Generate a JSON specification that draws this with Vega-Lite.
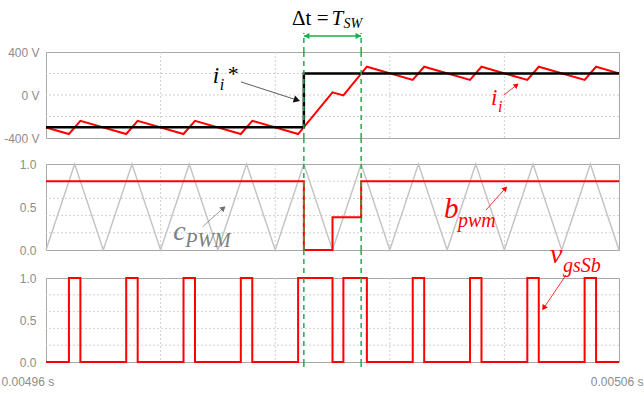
{
  "$schema": "https://vega.github.io/schema/vega-lite/v6.json",
  "padding": 0,
  "bounds": "flush",
  "spacing": 0,
  "resolve": {"scale": {"x": "independent", "y": "independent"}},
  "datasets": {
    "current": [
      {"t": 0.00496, "v": -302}, {"t": 0.004964, "v": -363}, {"t": 0.004966, "v": -240},
      {"t": 0.004974, "v": -363}, {"t": 0.004976, "v": -240}, {"t": 0.004984, "v": -363},
      {"t": 0.004986, "v": -240}, {"t": 0.004994, "v": -363}, {"t": 0.004996, "v": -240},
      {"t": 0.005004, "v": -363}, {"t": 0.00501, "v": 25}, {"t": 0.0050119, "v": -4},
      {"t": 0.005016, "v": 263}, {"t": 0.005024, "v": 140}, {"t": 0.005026, "v": 263},
      {"t": 0.005034, "v": 140}, {"t": 0.005036, "v": 263}, {"t": 0.005044, "v": 140},
      {"t": 0.005046, "v": 263}, {"t": 0.005054, "v": 140}, {"t": 0.005056, "v": 263},
      {"t": 0.00506, "v": 201}
    ],
    "reference": [
      {"t": 0.00496, "v": -300}, {"t": 0.005005, "v": 200}, {"t": 0.00506, "v": 200}
    ],
    "carrier": [
      {"t": 0.00496, "c": 0}, {"t": 0.004965, "c": 1}, {"t": 0.00497, "c": 0}, {"t": 0.004975, "c": 1},
      {"t": 0.00498, "c": 0}, {"t": 0.004985, "c": 1}, {"t": 0.00499, "c": 0}, {"t": 0.004995, "c": 1},
      {"t": 0.005, "c": 0}, {"t": 0.005005, "c": 1}, {"t": 0.00501, "c": 0}, {"t": 0.005015, "c": 1},
      {"t": 0.00502, "c": 0}, {"t": 0.005025, "c": 1}, {"t": 0.00503, "c": 0}, {"t": 0.005035, "c": 1},
      {"t": 0.00504, "c": 0}, {"t": 0.005045, "c": 1}, {"t": 0.00505, "c": 0}, {"t": 0.005055, "c": 1},
      {"t": 0.00506, "c": 0}
    ],
    "bpwm": [
      {"t": 0.00496, "b": 0.8}, {"t": 0.005005, "b": 0}, {"t": 0.00501, "b": 0.38},
      {"t": 0.005015, "b": 0.8}, {"t": 0.00506, "b": 0.8}
    ],
    "gate": [
      {"t": 0.00496, "g": 0}, {"t": 0.004964, "g": 1}, {"t": 0.004966, "g": 0},
      {"t": 0.004974, "g": 1}, {"t": 0.004976, "g": 0}, {"t": 0.004984, "g": 1},
      {"t": 0.004986, "g": 0}, {"t": 0.004994, "g": 1}, {"t": 0.004996, "g": 0},
      {"t": 0.005004, "g": 1}, {"t": 0.00501, "g": 0}, {"t": 0.0050119, "g": 1},
      {"t": 0.005016, "g": 0}, {"t": 0.005024, "g": 1}, {"t": 0.005026, "g": 0},
      {"t": 0.005034, "g": 1}, {"t": 0.005036, "g": 0}, {"t": 0.005044, "g": 1},
      {"t": 0.005046, "g": 0}, {"t": 0.005054, "g": 1}, {"t": 0.005056, "g": 0},
      {"t": 0.00506, "g": 0}
    ],
    "markers": [{"t": 0.005005}, {"t": 0.005015}],
    "vgrid": [{"t": 0.00498}, {"t": 0.005}, {"t": 0.00502}, {"t": 0.00504}],
    "hgridV": [{"v": -200}, {"v": 0}, {"v": 200}],
    "hgridU": [{"u": 0.2}, {"u": 0.4}, {"u": 0.6}, {"u": 0.8}]
  },
  "vconcat": [
    {
      "width": 573, "height": 52, "view": {"stroke": null},
      "layer": [
        {"data": {"name": "markers"},
         "mark": {"type": "rule", "color": "#1aaf4b", "strokeWidth": 1.5, "strokeDash": [5, 4]},
         "encoding": {
           "x": {"field": "t", "type": "quantitative", "scale": {"domain": [0.00496, 0.00506], "nice": false, "zero": false}, "axis": null},
           "y": {"datum": 0, "type": "quantitative", "scale": {"domain": [0, 1], "nice": false, "zero": false}, "axis": null},
           "y2": {"datum": 0.365}}},
        {"data": {"values": [{}]},
         "mark": {"type": "rule", "color": "#1aaf4b", "strokeWidth": 1.5},
         "encoding": {
           "x": {"datum": 0.005005, "type": "quantitative", "scale": {"domain": [0.00496, 0.00506], "nice": false, "zero": false}, "axis": null},
           "x2": {"datum": 0.005015},
           "y": {"datum": 0.31, "type": "quantitative", "scale": {"domain": [0, 1], "nice": false, "zero": false}, "axis": null}}},
        {"data": {"values": [{}]},
         "mark": {"type": "point", "shape": "triangle-left", "filled": true, "size": 40, "color": "#1aaf4b", "opacity": 1},
         "encoding": {
           "x": {"datum": 0.0050055, "type": "quantitative", "scale": {"domain": [0.00496, 0.00506], "nice": false, "zero": false}, "axis": null},
           "y": {"datum": 0.31, "type": "quantitative", "scale": {"domain": [0, 1], "nice": false, "zero": false}, "axis": null}}},
        {"data": {"values": [{}]},
         "mark": {"type": "point", "shape": "triangle-right", "filled": true, "size": 40, "color": "#1aaf4b", "opacity": 1},
         "encoding": {
           "x": {"datum": 0.0050145, "type": "quantitative", "scale": {"domain": [0.00496, 0.00506], "nice": false, "zero": false}, "axis": null},
           "y": {"datum": 0.31, "type": "quantitative", "scale": {"domain": [0, 1], "nice": false, "zero": false}, "axis": null}}},
        {"data": {"values": [{}]},
         "mark": {"type": "text", "text": "Δt =", "align": "right", "baseline": "alphabetic", "dx": -4, "font": "Liberation Serif", "fontSize": 21, "color": "#000000"},
         "encoding": {
           "x": {"datum": 0.00501, "type": "quantitative", "scale": {"domain": [0.00496, 0.00506], "nice": false, "zero": false}, "axis": null},
           "y": {"datum": 0.52, "type": "quantitative", "scale": {"domain": [0, 1], "nice": false, "zero": false}, "axis": null}}},
        {"data": {"values": [{}]},
         "mark": {"type": "text", "text": "T", "align": "left", "baseline": "alphabetic", "dx": -1, "font": "Liberation Serif", "fontStyle": "italic", "fontSize": 21, "color": "#000000"},
         "encoding": {
           "x": {"datum": 0.00501, "type": "quantitative", "scale": {"domain": [0.00496, 0.00506], "nice": false, "zero": false}, "axis": null},
           "y": {"datum": 0.52, "type": "quantitative", "scale": {"domain": [0, 1], "nice": false, "zero": false}, "axis": null}}},
        {"data": {"values": [{}]},
         "mark": {"type": "text", "text": "SW", "align": "left", "baseline": "alphabetic", "dx": 11, "dy": 3, "font": "Liberation Serif", "fontStyle": "italic", "fontSize": 14, "color": "#000000"},
         "encoding": {
           "x": {"datum": 0.00501, "type": "quantitative", "scale": {"domain": [0.00496, 0.00506], "nice": false, "zero": false}, "axis": null},
           "y": {"datum": 0.52, "type": "quantitative", "scale": {"domain": [0, 1], "nice": false, "zero": false}, "axis": null}}}
      ]
    },
    {
      "width": 573, "height": 86,
      "layer": [
        {"data": {"name": "vgrid"},
         "mark": {"type": "rule", "color": "#d0d0d0", "strokeWidth": 1, "strokeDash": [2, 2]},
         "encoding": {
           "x": {"field": "t", "type": "quantitative", "scale": {"domain": [0.00496, 0.00506], "nice": false, "zero": false}, "axis": null}}},
        {"data": {"name": "hgridV"},
         "mark": {"type": "rule", "color": "#d0d0d0", "strokeWidth": 1, "strokeDash": [2, 2]},
         "encoding": {
           "y": {"field": "v", "type": "quantitative", "scale": {"domain": [-400, 400], "nice": false, "zero": false}, "axis": {"title": null}}}},
        {"data": {"name": "current"},
         "mark": {"type": "line", "color": "#ff0000", "strokeWidth": 2},
         "encoding": {
           "x": {"field": "t", "type": "quantitative", "scale": {"domain": [0.00496, 0.00506], "nice": false, "zero": false}, "axis": null},
           "y": {"field": "v", "type": "quantitative", "scale": {"domain": [-400, 400], "nice": false, "zero": false},
                 "axis": {"values": [-400, 0, 400], "labelExpr": "datum.value + ' V'", "grid": false,
                          "labelPadding": 7, "labelOverlap": false, "title": null}}}},
        {"data": {"name": "reference"},
         "mark": {"type": "line", "color": "#000000", "strokeWidth": 2.5, "interpolate": "step-after"},
         "encoding": {
           "x": {"field": "t", "type": "quantitative", "scale": {"domain": [0.00496, 0.00506], "nice": false, "zero": false}, "axis": null},
           "y": {"field": "v", "type": "quantitative", "scale": {"domain": [-400, 400], "nice": false, "zero": false}, "axis": {"title": null}}}},
        {"data": {"name": "markers"},
         "mark": {"type": "rule", "color": "#1aaf4b", "strokeWidth": 1.5, "strokeDash": [5, 4]},
         "encoding": {
           "x": {"field": "t", "type": "quantitative", "scale": {"domain": [0.00496, 0.00506], "nice": false, "zero": false}, "axis": null}}},
        {"data": {"values": [{}]},
         "mark": {"type": "rule", "color": "#333333", "strokeWidth": 0.8},
         "encoding": {
           "x": {"datum": 0.00499403, "type": "quantitative", "scale": {"domain": [0.00496, 0.00506], "nice": false, "zero": false}, "axis": null},
           "x2": {"datum": 0.0050038},
           "y": {"datum": 122, "type": "quantitative", "scale": {"domain": [-400, 400], "nice": false, "zero": false}, "axis": {"title": null}},
           "y2": {"datum": -47}}},
        {"data": {"values": [{}]},
         "mark": {"type": "point", "shape": "triangle-up", "filled": true, "size": 55, "color": "#111111", "opacity": 1, "angle": 108},
         "encoding": {
           "x": {"datum": 0.0050038, "type": "quantitative", "scale": {"domain": [0.00496, 0.00506], "nice": false, "zero": false}, "axis": null},
           "y": {"datum": -47, "type": "quantitative", "scale": {"domain": [-400, 400], "nice": false, "zero": false}, "axis": {"title": null}}}},
        {"data": {"values": [{}]},
         "mark": {"type": "rule", "color": "#ff0000", "strokeWidth": 0.8},
         "encoding": {
           "x": {"datum": 0.00503988, "type": "quantitative", "scale": {"domain": [0.00496, 0.00506], "nice": false, "zero": false}, "axis": null},
           "x2": {"datum": 0.00504213},
           "y": {"datum": -1, "type": "quantitative", "scale": {"domain": [-400, 400], "nice": false, "zero": false}, "axis": {"title": null}},
           "y2": {"datum": 92}}},
        {"data": {"values": [{}]},
         "mark": {"type": "point", "shape": "triangle-up", "filled": true, "size": 35, "color": "#ff0000", "opacity": 1, "angle": 51},
         "encoding": {
           "x": {"datum": 0.00504213, "type": "quantitative", "scale": {"domain": [0.00496, 0.00506], "nice": false, "zero": false}, "axis": null},
           "y": {"datum": 92, "type": "quantitative", "scale": {"domain": [-400, 400], "nice": false, "zero": false}, "axis": {"title": null}}}},
        {"data": {"values": [{}]},
         "mark": {"type": "text", "text": "i", "align": "left", "baseline": "alphabetic", "font": "Liberation Serif", "fontStyle": "italic", "fontSize": 23, "color": "#000000"},
         "encoding": {
           "x": {"datum": 0.0049891, "type": "quantitative", "scale": {"domain": [0.00496, 0.00506], "nice": false, "zero": false}, "axis": null},
           "y": {"datum": 110, "type": "quantitative", "scale": {"domain": [-400, 400], "nice": false, "zero": false}, "axis": {"title": null}}}},
        {"data": {"values": [{}]},
         "mark": {"type": "text", "text": "i", "align": "left", "baseline": "alphabetic", "dx": 7, "dy": 7, "font": "Liberation Serif", "fontStyle": "italic", "fontSize": 16, "color": "#000000"},
         "encoding": {
           "x": {"datum": 0.0049891, "type": "quantitative", "scale": {"domain": [0.00496, 0.00506], "nice": false, "zero": false}, "axis": null},
           "y": {"datum": 110, "type": "quantitative", "scale": {"domain": [-400, 400], "nice": false, "zero": false}, "axis": {"title": null}}}},
        {"data": {"values": [{}]},
         "mark": {"type": "text", "text": "*", "align": "left", "baseline": "alphabetic", "dx": 15, "dy": -2, "font": "Liberation Serif", "fontSize": 22, "color": "#000000"},
         "encoding": {
           "x": {"datum": 0.0049891, "type": "quantitative", "scale": {"domain": [0.00496, 0.00506], "nice": false, "zero": false}, "axis": null},
           "y": {"datum": 110, "type": "quantitative", "scale": {"domain": [-400, 400], "nice": false, "zero": false}, "axis": {"title": null}}}},
        {"data": {"values": [{}]},
         "mark": {"type": "text", "text": "i", "align": "left", "baseline": "alphabetic", "font": "Liberation Serif", "fontStyle": "italic", "fontSize": 23, "color": "#ff0000"},
         "encoding": {
           "x": {"datum": 0.00503766, "type": "quantitative", "scale": {"domain": [0.00496, 0.00506], "nice": false, "zero": false}, "axis": null},
           "y": {"datum": -94, "type": "quantitative", "scale": {"domain": [-400, 400], "nice": false, "zero": false}, "axis": {"title": null}}}},
        {"data": {"values": [{}]},
         "mark": {"type": "text", "text": "i", "align": "left", "baseline": "alphabetic", "dx": 7, "dy": 7, "font": "Liberation Serif", "fontStyle": "italic", "fontSize": 16, "color": "#ff0000"},
         "encoding": {
           "x": {"datum": 0.00503766, "type": "quantitative", "scale": {"domain": [0.00496, 0.00506], "nice": false, "zero": false}, "axis": null},
           "y": {"datum": -94, "type": "quantitative", "scale": {"domain": [-400, 400], "nice": false, "zero": false}, "axis": {"title": null}}}}
      ]
    },
    {
      "width": 573, "height": 26, "view": {"stroke": null},
      "layer": [
        {"data": {"name": "markers"},
         "mark": {"type": "rule", "color": "#1aaf4b", "strokeWidth": 1.5, "strokeDash": [5, 4]},
         "encoding": {
           "x": {"field": "t", "type": "quantitative", "scale": {"domain": [0.00496, 0.00506], "nice": false, "zero": false}, "axis": null}}}
      ]
    },
    {
      "width": 573, "height": 86,
      "layer": [
        {"data": {"name": "vgrid"},
         "mark": {"type": "rule", "color": "#d0d0d0", "strokeWidth": 1, "strokeDash": [2, 2]},
         "encoding": {
           "x": {"field": "t", "type": "quantitative", "scale": {"domain": [0.00496, 0.00506], "nice": false, "zero": false}, "axis": null}}},
        {"data": {"name": "hgridU"},
         "mark": {"type": "rule", "color": "#d0d0d0", "strokeWidth": 1, "strokeDash": [2, 2]},
         "encoding": {
           "y": {"field": "u", "type": "quantitative", "scale": {"domain": [0, 1], "nice": false, "zero": false}, "axis": {"title": null}}}},
        {"data": {"name": "carrier"},
         "mark": {"type": "line", "color": "#c4c4c4", "strokeWidth": 1.5},
         "encoding": {
           "x": {"field": "t", "type": "quantitative", "scale": {"domain": [0.00496, 0.00506], "nice": false, "zero": false}, "axis": null},
           "y": {"field": "c", "type": "quantitative", "scale": {"domain": [0, 1], "nice": false, "zero": false},
                 "axis": {"values": [0, 0.5, 1], "format": ".1f", "grid": false,
                          "labelPadding": 10, "labelOverlap": false, "title": null}}}},
        {"data": {"name": "bpwm"},
         "mark": {"type": "line", "color": "#ff0000", "strokeWidth": 2, "interpolate": "step-after"},
         "encoding": {
           "x": {"field": "t", "type": "quantitative", "scale": {"domain": [0.00496, 0.00506], "nice": false, "zero": false}, "axis": null},
           "y": {"field": "b", "type": "quantitative", "scale": {"domain": [0, 1], "nice": false, "zero": false}, "axis": {"title": null}}}},
        {"data": {"name": "markers"},
         "mark": {"type": "rule", "color": "#1aaf4b", "strokeWidth": 1.5, "strokeDash": [5, 4]},
         "encoding": {
           "x": {"field": "t", "type": "quantitative", "scale": {"domain": [0.00496, 0.00506], "nice": false, "zero": false}, "axis": null}}},
        {"data": {"values": [{}]},
         "mark": {"type": "rule", "color": "#808080", "strokeWidth": 0.8},
         "encoding": {
           "x": {"datum": 0.00498735, "type": "quantitative", "scale": {"domain": [0.00496, 0.00506], "nice": false, "zero": false}, "axis": null},
           "x2": {"datum": 0.00499096},
           "y": {"datum": 0.271, "type": "quantitative", "scale": {"domain": [0, 1], "nice": false, "zero": false}, "axis": {"title": null}},
           "y2": {"datum": 0.488}}},
        {"data": {"values": [{}]},
         "mark": {"type": "point", "shape": "triangle-up", "filled": true, "size": 40, "color": "#707070", "opacity": 1, "angle": 48},
         "encoding": {
           "x": {"datum": 0.00499096, "type": "quantitative", "scale": {"domain": [0.00496, 0.00506], "nice": false, "zero": false}, "axis": null},
           "y": {"datum": 0.488, "type": "quantitative", "scale": {"domain": [0, 1], "nice": false, "zero": false}, "axis": {"title": null}}}},
        {"data": {"values": [{}]},
         "mark": {"type": "rule", "color": "#ff0000", "strokeWidth": 0.8},
         "encoding": {
           "x": {"datum": 0.00503679, "type": "quantitative", "scale": {"domain": [0.00496, 0.00506], "nice": false, "zero": false}, "axis": null},
           "x2": {"datum": 0.00504017},
           "y": {"datum": 0.465, "type": "quantitative", "scale": {"domain": [0, 1], "nice": false, "zero": false}, "axis": {"title": null}},
           "y2": {"datum": 0.717}}},
        {"data": {"values": [{}]},
         "mark": {"type": "point", "shape": "triangle-up", "filled": true, "size": 35, "color": "#ff0000", "opacity": 1, "angle": 42},
         "encoding": {
           "x": {"datum": 0.00504017, "type": "quantitative", "scale": {"domain": [0.00496, 0.00506], "nice": false, "zero": false}, "axis": null},
           "y": {"datum": 0.717, "type": "quantitative", "scale": {"domain": [0, 1], "nice": false, "zero": false}, "axis": {"title": null}}}},
        {"data": {"values": [{}]},
         "mark": {"type": "text", "text": "c", "align": "left", "baseline": "alphabetic", "font": "Liberation Serif", "fontStyle": "italic", "fontSize": 28, "color": "#7f7f7f"},
         "encoding": {
           "x": {"datum": 0.0049822, "type": "quantitative", "scale": {"domain": [0.00496, 0.00506], "nice": false, "zero": false}, "axis": null},
           "y": {"datum": 0.116, "type": "quantitative", "scale": {"domain": [0, 1], "nice": false, "zero": false}, "axis": {"title": null}}}},
        {"data": {"values": [{}]},
         "mark": {"type": "text", "text": "PWM", "align": "left", "baseline": "alphabetic", "dx": 12, "dy": 7, "font": "Liberation Serif", "fontStyle": "italic", "fontSize": 20, "color": "#7f7f7f"},
         "encoding": {
           "x": {"datum": 0.0049822, "type": "quantitative", "scale": {"domain": [0.00496, 0.00506], "nice": false, "zero": false}, "axis": null},
           "y": {"datum": 0.116, "type": "quantitative", "scale": {"domain": [0, 1], "nice": false, "zero": false}, "axis": {"title": null}}}},
        {"data": {"values": [{}]},
         "mark": {"type": "text", "text": "b", "align": "left", "baseline": "alphabetic", "font": "Liberation Serif", "fontStyle": "italic", "fontSize": 29, "color": "#ff0000"},
         "encoding": {
           "x": {"datum": 0.00502946, "type": "quantitative", "scale": {"domain": [0.00496, 0.00506], "nice": false, "zero": false}, "axis": null},
           "y": {"datum": 0.372, "type": "quantitative", "scale": {"domain": [0, 1], "nice": false, "zero": false}, "axis": {"title": null}}}},
        {"data": {"values": [{}]},
         "mark": {"type": "text", "text": "pwm", "align": "left", "baseline": "alphabetic", "dx": 14, "dy": 9, "font": "Liberation Serif", "fontStyle": "italic", "fontSize": 20, "color": "#ff0000"},
         "encoding": {
           "x": {"datum": 0.00502946, "type": "quantitative", "scale": {"domain": [0.00496, 0.00506], "nice": false, "zero": false}, "axis": null},
           "y": {"datum": 0.372, "type": "quantitative", "scale": {"domain": [0, 1], "nice": false, "zero": false}, "axis": {"title": null}}}}
      ]
    },
    {
      "width": 573, "height": 28, "view": {"stroke": null},
      "layer": [
        {"data": {"name": "markers"},
         "mark": {"type": "rule", "color": "#1aaf4b", "strokeWidth": 1.5, "strokeDash": [5, 4]},
         "encoding": {
           "x": {"field": "t", "type": "quantitative", "scale": {"domain": [0.00496, 0.00506], "nice": false, "zero": false}, "axis": null}}}
      ]
    },
    {
      "width": 573, "height": 84,
      "layer": [
        {"data": {"name": "vgrid"},
         "mark": {"type": "rule", "color": "#d0d0d0", "strokeWidth": 1, "strokeDash": [2, 2]},
         "encoding": {
           "x": {"field": "t", "type": "quantitative", "scale": {"domain": [0.00496, 0.00506], "nice": false, "zero": false}, "axis": {"title": null}}}},
        {"data": {"name": "hgridU"},
         "mark": {"type": "rule", "color": "#d0d0d0", "strokeWidth": 1, "strokeDash": [2, 2]},
         "encoding": {
           "y": {"field": "u", "type": "quantitative", "scale": {"domain": [0, 1], "nice": false, "zero": false}, "axis": {"title": null}}}},
        {"data": {"name": "gate"},
         "mark": {"type": "line", "color": "#ff0000", "strokeWidth": 2, "interpolate": "step-after"},
         "encoding": {
           "x": {"field": "t", "type": "quantitative", "scale": {"domain": [0.00496, 0.00506], "nice": false, "zero": false},
                 "axis": {"values": [0.00496, 0.00506],
                          "labelExpr": "format(datum.value, '.5f') + ' s'",
                          "labelAlign": {"condition": {"test": "datum.value < 0.00497", "value": "left"}, "value": "right"},
                          "labelOffset": {"condition": {"test": "datum.value < 0.00497", "value": -45}, "value": 24},
                          "labelPadding": 14, "labelFlush": false, "labelOverlap": false, "grid": false, "ticks": false, "domain": false, "title": null}},
           "y": {"field": "g", "type": "quantitative", "scale": {"domain": [0, 1], "nice": false, "zero": false},
                 "axis": {"values": [0, 0.5, 1], "format": ".1f", "grid": false,
                          "labelPadding": 10, "labelOverlap": false, "title": null}}}},
        {"data": {"name": "markers"},
         "mark": {"type": "rule", "color": "#1aaf4b", "strokeWidth": 1.5, "strokeDash": [5, 4]},
         "encoding": {
           "x": {"field": "t", "type": "quantitative", "scale": {"domain": [0.00496, 0.00506], "nice": false, "zero": false}, "axis": {"title": null}}}},
        {"data": {"values": [{}]},
         "mark": {"type": "rule", "color": "#ff0000", "strokeWidth": 0.8},
         "encoding": {
           "x": {"datum": 0.00505075, "type": "quantitative", "scale": {"domain": [0.00496, 0.00506], "nice": false, "zero": false}, "axis": {"title": null}},
           "x2": {"datum": 0.00504686},
           "y": {"datum": 1.036, "type": "quantitative", "scale": {"domain": [0, 1], "nice": false, "zero": false}, "axis": {"title": null}},
           "y2": {"datum": 0.642}}},
        {"data": {"values": [{}]},
         "mark": {"type": "point", "shape": "triangle-up", "filled": true, "size": 40, "color": "#ff0000", "opacity": 1, "angle": 214},
         "encoding": {
           "x": {"datum": 0.00504686, "type": "quantitative", "scale": {"domain": [0.00496, 0.00506], "nice": false, "zero": false}, "axis": {"title": null}},
           "y": {"datum": 0.642, "type": "quantitative", "scale": {"domain": [0, 1], "nice": false, "zero": false}, "axis": {"title": null}}}},
        {"data": {"values": [{}]},
         "mark": {"type": "text", "text": "v", "align": "left", "baseline": "alphabetic", "font": "Liberation Serif", "fontStyle": "italic", "fontSize": 28, "color": "#ff0000"},
         "encoding": {
           "x": {"datum": 0.00504796, "type": "quantitative", "scale": {"domain": [0.00496, 0.00506], "nice": false, "zero": false}, "axis": {"title": null}},
           "y": {"datum": 1.179, "type": "quantitative", "scale": {"domain": [0, 1], "nice": false, "zero": false}, "axis": {"title": null}}}},
        {"data": {"values": [{}]},
         "mark": {"type": "text", "text": "gsSb", "align": "left", "baseline": "alphabetic", "dx": 13, "dy": 9, "font": "Liberation Serif", "fontStyle": "italic", "fontSize": 20, "color": "#ff0000"},
         "encoding": {
           "x": {"datum": 0.00504796, "type": "quantitative", "scale": {"domain": [0.00496, 0.00506], "nice": false, "zero": false}, "axis": {"title": null}},
           "y": {"datum": 1.179, "type": "quantitative", "scale": {"domain": [0, 1], "nice": false, "zero": false}, "axis": {"title": null}}}}
      ]
    },
    {
      "width": 573, "height": 9, "view": {"stroke": null},
      "layer": [
        {"data": {"name": "markers"},
         "mark": {"type": "rule", "color": "#1aaf4b", "strokeWidth": 1.5, "strokeDash": [5, 4]},
         "encoding": {
           "x": {"field": "t", "type": "quantitative", "scale": {"domain": [0.00496, 0.00506], "nice": false, "zero": false}, "axis": null}}}
      ]
    }
  ],
  "config": {
    "view": {"stroke": "#a8a8a8", "strokeWidth": 1},
    "axis": {
      "labelFont": "Liberation Sans", "labelFontSize": 12, "labelColor": "#8c8c8c",
      "ticks": false, "domain": false, "labelOverlap": false
    }
  }
}
